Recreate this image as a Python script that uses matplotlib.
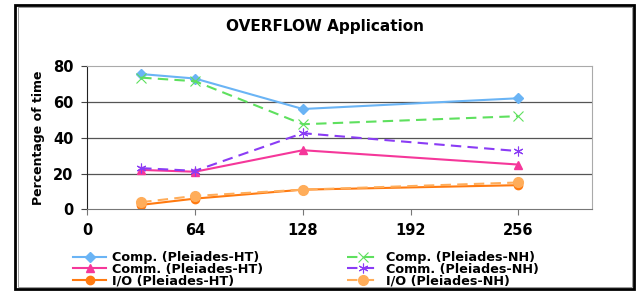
import matplotlib
matplotlib.use("Agg")
import matplotlib.pyplot as plt
from matplotlib.patches import Rectangle

# data
procs = [32, 64, 128, 256]
comp_ht = [75.5, 73, 56, 62]
comp_nh = [73.5, 71.5, 47.5, 52]
comm_ht = [22, 21, 33, 25]
comm_nh = [23, 21.5, 42.5, 32.5]
io_ht = [2.5, 6, 11, 13.5]
io_nh = [4, 7.5, 11, 15]

xticks = [0, 64, 128, 192, 256]
yticks = [0, 20, 40, 60, 80]

plt.rcParams['font.family'] = 'DejaVu Sans'
plt.rcParams['font.weight'] = 'bold'

fig = plt.figure(figsize=(6.37, 2.92), dpi=100)
ax = fig.add_axes([0.137, 0.283, 0.793, 0.491])

dash = (0, (5, 3))
h1, = ax.plot(procs, comp_ht, '-', color='#6ab4f5', lw=1.5, marker='D', ms=5, label='Comp. (Pleiades-HT)')
h2, = ax.plot(procs, comp_nh, color='#5ee05e', lw=1.5, ls=dash, marker='x', ms=7, mew=0.8, label='Comp. (Pleiades-NH)')
h3, = ax.plot(procs, comm_ht, '-', color='#f5379a', lw=1.5, marker='^', ms=6, label='Comm. (Pleiades-HT)')
h4, = ax.plot(procs, comm_nh, color='#8a3cf5', lw=1.5, ls=dash, marker=(6, 2, 0), ms=7, mew=0.8, label='Comm. (Pleiades-NH)')
h5, = ax.plot(procs, io_ht, '-', color='#ff7a10', lw=1.5, marker='o', ms=6, label='I/O (Pleiades-HT)')
h6, = ax.plot(procs, io_nh, color='#ffad5a', lw=1.5, ls=dash, marker='o', ms=7, label='I/O (Pleiades-NH)')

ax.set_xlim(0, 300)
ax.set_ylim(0, 80)
ax.set_xticks(xticks)
ax.set_yticks(yticks)
ax.tick_params(labelsize=10.5, length=4, width=0.8, direction='out', pad=6)
ax.tick_params(axis='x', colors='#777777', labelcolor='black')
ax.tick_params(axis='y', colors='#444444', labelcolor='black')
for t in ax.get_xticklabels() + ax.get_yticklabels():
    t.set_fontweight('bold')

for v in [20, 40, 60]:
    ax.axhline(v, color='#555555', lw=0.9, zorder=0)

ax.spines['top'].set_color('#aaaaaa')
ax.spines['right'].set_color('#aaaaaa')
ax.spines['left'].set_color('#222222')
ax.spines['bottom'].set_color('#777777')

ax.set_ylabel('Percentage of time', fontsize=9, fontweight='bold', labelpad=6)
fig.text(0.51, 0.91, 'OVERFLOW Application', ha='center', va='center',
         fontsize=11, fontweight='bold')

leg_kw = dict(frameon=False, fontsize=9.2, handlelength=2.6, handletextpad=0.45,
              labelspacing=-0.12, borderaxespad=0, borderpad=0)
leg1 = fig.legend(handles=[h1, h3, h5], loc='upper left', bbox_to_anchor=(0.115, 0.14), **leg_kw)
leg2 = fig.legend(handles=[h2, h4, h6], loc='upper left', bbox_to_anchor=(0.544, 0.14), **leg_kw)
for lg in (leg1, leg2):
    for t in lg.get_texts():
        t.set_fontweight('bold')

# outer frame
W, H = 637.0, 292.0
fig.patches.append(Rectangle((15 / W, 3 / H), 619 / W, 284 / H, transform=fig.transFigure,
                             fill=False, ec='black', lw=2))
fig.patches.append(Rectangle((18 / W, 5 / H), 614 / W, 280 / H, transform=fig.transFigure,
                             fill=False, ec='#999999', lw=0.7))

fig.savefig('out.png', dpi=100)
